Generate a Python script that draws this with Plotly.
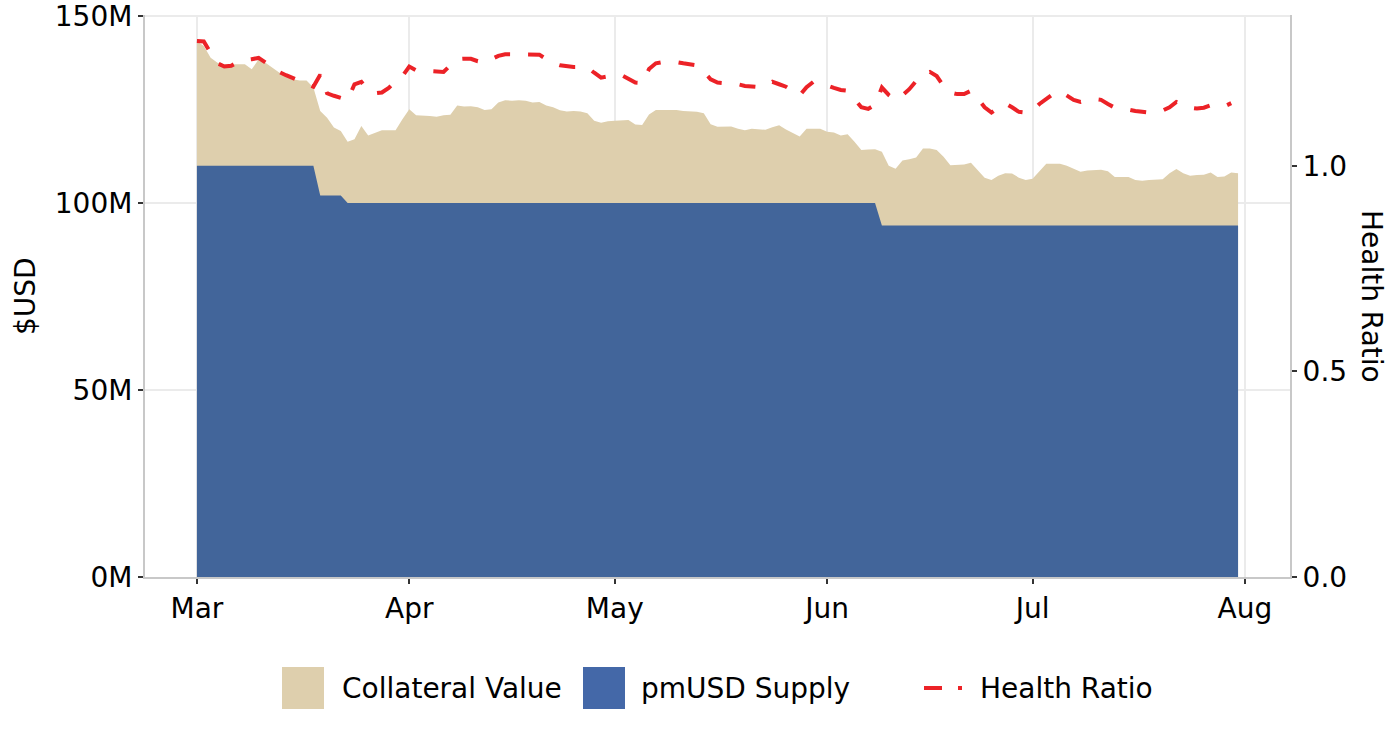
import pandas as pd
import plotly.graph_objects as go

# daily dates, Mar 1 - Jul 31
dates = pd.date_range("2023-03-01", "2023-07-31", freq="D")

# collateral value, $M
collateral = [
    143.3, 142.0, 138.9, 137.5, 137.1, 137.1, 137.3, 137.1, 135.8, 138.4,
    137.5, 136.2, 134.9, 134.0, 133.1, 132.8, 132.8, 130.9, 124.6, 122.8,
    120.2, 119.3, 116.4, 117.1, 120.6, 118.1, 118.7, 119.5, 119.5, 119.5,
    122.4, 125.1, 123.5, 123.5, 123.3, 123.1, 123.5, 123.6, 126.1, 125.8,
    125.9, 125.6, 124.9, 125.1, 126.9, 127.5, 127.4, 127.5, 127.4, 126.9,
    127.0, 126.1, 125.6, 124.8, 124.5, 124.6, 124.5, 124.0, 122.0, 121.5,
    121.9, 122.0, 122.1, 122.2, 121.0, 120.9, 123.7, 124.9, 124.9, 124.9,
    124.9, 124.6, 124.6, 124.4, 124.0, 121.1, 120.4, 120.4, 120.5, 119.9,
    119.5, 119.9, 119.7, 119.6, 120.3, 120.8, 119.7, 118.7, 117.8, 119.9,
    120.0, 119.9, 119.1, 118.9, 118.1, 118.4, 116.4, 114.2, 114.3, 114.4,
    113.7, 110.0, 109.2, 111.4, 111.7, 112.2, 114.6, 114.6, 114.2, 112.4,
    110.1, 110.1, 110.3, 110.8, 108.9, 106.8, 106.2, 107.3, 108.0, 107.9,
    106.8, 106.2, 106.5, 108.4, 110.5, 110.5, 110.5, 110.0, 109.2, 108.4,
    108.7, 108.8, 108.9, 108.5, 107.0, 107.0, 107.0, 106.2, 106.0, 106.2,
    106.2, 106.4, 108.0, 109.1, 108.0, 107.3, 107.5, 107.6, 108.2, 107.0,
    107.1, 108.2, 108.0,
]

# pmUSD supply, $M
supply = [110] * 18 + [102] * 4 + [100] * 78 + [94] * 53

# health ratio
health = [
    1.303, 1.302, 1.274, 1.249, 1.241, 1.243, 1.252, 1.257, 1.259, 1.262,
    1.251, 1.239, 1.228, 1.220, 1.213, 1.208, 1.200, 1.192, 1.221, 1.176,
    1.170, 1.166, 1.160, 1.198, 1.204, 1.183, 1.176, 1.178, 1.189, 1.205,
    1.218, 1.241, 1.232, 1.231, 1.230, 1.229, 1.228, 1.244, 1.259, 1.260,
    1.260, 1.254, 1.251, 1.259, 1.267, 1.271, 1.271, 1.271, 1.271, 1.271,
    1.270, 1.259, 1.249, 1.244, 1.241, 1.240, 1.240, 1.239, 1.226, 1.214,
    1.217, 1.221, 1.220, 1.210, 1.202, 1.201, 1.235, 1.249, 1.252, 1.252,
    1.252, 1.249, 1.246, 1.244, 1.228, 1.210, 1.202, 1.201, 1.201, 1.198,
    1.194, 1.192, 1.191, 1.194, 1.204, 1.198, 1.192, 1.182, 1.171, 1.191,
    1.204, 1.201, 1.194, 1.189, 1.184, 1.182, 1.162, 1.142, 1.138, 1.148,
    1.190, 1.172, 1.160, 1.171, 1.186, 1.206, 1.222, 1.228, 1.218, 1.194,
    1.178, 1.174, 1.174, 1.182, 1.163, 1.142, 1.129, 1.140, 1.152, 1.142,
    1.131, 1.129, 1.134, 1.150, 1.163, 1.174, 1.181, 1.170, 1.160, 1.155,
    1.160, 1.162, 1.160, 1.150, 1.141, 1.140, 1.136, 1.133, 1.131, 1.129,
    1.130, 1.134, 1.142, 1.155, 1.150, 1.141, 1.139, 1.141, 1.147, 1.144,
    1.144, 1.152,
]

month_ticks = ["2023-03-01", "2023-04-01", "2023-05-01", "2023-06-01", "2023-07-01", "2023-08-01"]
usd_ticks = [0, 50, 100, 150]
usd_labels = ["0M", "50M", "100M", "150M"]
ratio_ticks = [0.0, 0.5, 1.0]

BEIGE = "#DECFAD"
BLUE = "#42659A"
RED = "#EC2227"
FONT = "DejaVu Sans, Liberation Sans, Arial, sans-serif"
FS = 28

# plot area in pixels (for the hand-made legend)
L, R, T, B = 145, 1290, 15, 577
YTOP = 150.3


def px(x):
    return (x - L) / (R - L)


def py(y):
    return (B - y) / (B - T)


fig = go.Figure()
fig.add_trace(go.Scatter(x=dates, y=collateral, fill="tozeroy", fillcolor=BEIGE,
                         line=dict(width=0), mode="lines", name="Collateral Value"))
fig.add_trace(go.Scatter(x=dates, y=supply, fill="tozeroy", fillcolor=BLUE,
                         line=dict(width=0), mode="lines", name="pmUSD Supply"))
fig.add_trace(go.Scatter(x=dates[:len(health)], y=health, yaxis="y2", mode="lines",
                         line=dict(color=RED, width=4, dash="16px,18px"), name="Health Ratio"))

axis_common = dict(showline=True, linecolor="#C8C8C8", linewidth=2,
                   ticks="outside", ticklen=5, tickwidth=1.5, tickcolor="#333333",
                   tickfont=dict(size=FS, color="black", family=FONT), zeroline=False,
                   ticklabeloverflow="allow", automargin=False)

fig.update_layout(
    width=1400, height=740,
    paper_bgcolor="white", plot_bgcolor="white",
    margin=dict(l=L, r=1400 - R, t=T, b=740 - B),
    showlegend=False,
    font=dict(family=FONT, size=FS, color="black"),
    xaxis=dict(type="date", range=["2023-02-21 10:00", "2023-08-07 14:00"],
               tickvals=month_ticks, tickformat="%b",
               showgrid=True, gridcolor="#EBEBEB", gridwidth=1.5, **axis_common),
    yaxis=dict(range=[0, YTOP], tickvals=usd_ticks, ticktext=usd_labels,
               showgrid=True, gridcolor="#EBEBEB", gridwidth=1.5, **axis_common),
    yaxis2=dict(overlaying="y", side="right", range=[0, YTOP / 110],
                tickvals=ratio_ticks, tickformat=".1f", showgrid=False, **axis_common),
)

# axis titles
fig.add_annotation(x=px(25), y=py(296), xref="paper", yref="paper", text="$USD",
                   textangle=-90, showarrow=False, xanchor="center", yanchor="middle")
fig.add_annotation(x=px(1372), y=py(296), xref="paper", yref="paper", text="Health Ratio",
                   textangle=90, showarrow=False, xanchor="center", yanchor="middle")

# legend
ly = 688
fig.add_shape(type="rect", xref="paper", yref="paper", x0=px(282), x1=px(324),
              y0=py(667), y1=py(709), fillcolor=BEIGE, line=dict(width=0))
fig.add_annotation(x=px(340), y=py(ly), xref="paper", yref="paper", text="Collateral Value",
                   xanchor="left", yanchor="middle", showarrow=False)
fig.add_shape(type="rect", xref="paper", yref="paper", x0=px(583), x1=px(625),
              y0=py(667), y1=py(709), fillcolor="#4468A8", line=dict(width=0))
fig.add_annotation(x=px(639), y=py(ly), xref="paper", yref="paper", text="pmUSD Supply",
                   xanchor="left", yanchor="middle", showarrow=False)
fig.add_shape(type="line", xref="paper", yref="paper", x0=px(924), x1=px(962),
              y0=py(ly), y1=py(ly), line=dict(color=RED, width=4, dash="18px,16px"))
fig.add_annotation(x=px(978), y=py(ly), xref="paper", yref="paper", text="Health Ratio",
                   xanchor="left", yanchor="middle", showarrow=False)

fig.write_html("out.html", config={"displayModeBar": False},
               post_script="document.body.style.margin='0px';")
